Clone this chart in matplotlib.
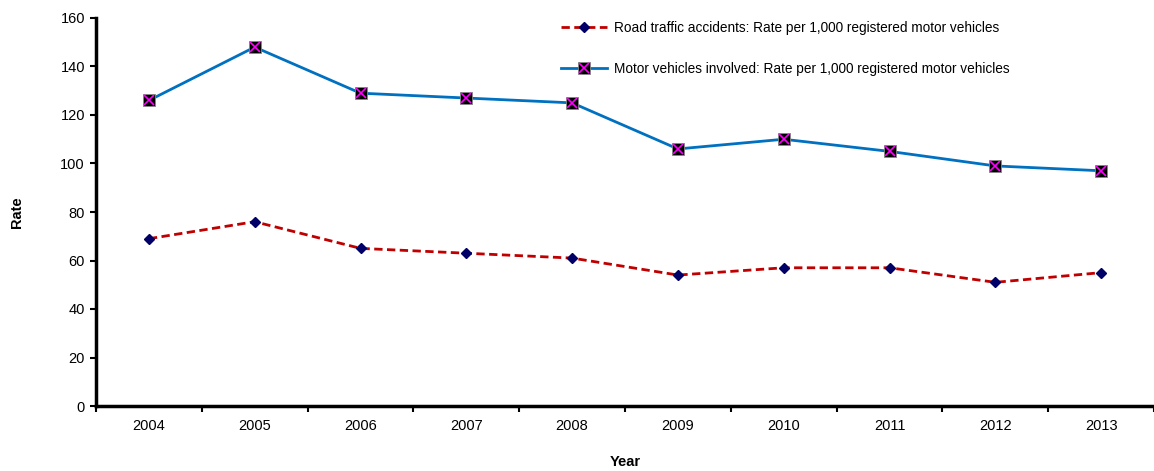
import matplotlib
matplotlib.use("Agg")
import matplotlib.pyplot as plt
from matplotlib.ticker import FixedLocator

plt.rcParams['font.family'] = ['Liberation Sans', 'DejaVu Sans']

years = ['2004', '2005', '2006', '2007', '2008', '2009', '2010', '2011', '2012', '2013']
accidents = [69, 76, 65, 63, 61, 54, 57, 57, 51, 55]
vehicles = [126, 148, 129, 127, 125, 106, 110, 105, 99, 97]

acc_label = 'Road traffic accidents: Rate per 1,000 registered motor vehicles'
veh_label = 'Motor vehicles involved: Rate per 1,000 registered motor vehicles'

fig = plt.figure(figsize=(11.54, 4.71), dpi=100)
ax = fig.add_axes([96 / 1154, 65 / 471, 1 - 96 / 1154, 388 / 471])

x = list(range(len(years)))

l_acc, = ax.plot(x, accidents, color='#C00000', lw=2, ls=(0, (3, 1.6)),
                 marker='D', ms=5.5, mfc='#000066', mec='#000066', zorder=3)
l_veh, = ax.plot(x, vehicles, color='#0070C0', lw=2,
                 marker='s', ms=8, mfc='black', mec='#888888', mew=0.6, zorder=3)
x_veh, = ax.plot(x, vehicles, ls='none', marker='x', ms=6.5, mec='#FF00FF', mew=1.2, zorder=4)

ax.set_xlim(-0.5, len(years) - 0.5)
ax.set_ylim(0, 160)
ax.set_yticks(range(0, 161, 20))
ax.set_xticks(x)
ax.set_xticklabels(years)
ax.tick_params(axis='x', which='major', length=0, pad=9, labelsize=10.5)
ax.xaxis.set_minor_locator(FixedLocator([i - 0.5 for i in range(len(years) + 1)]))
ax.tick_params(axis='x', which='minor', length=4, width=1.5, direction='out')
ax.tick_params(axis='y', length=4, width=1.5, direction='out', labelsize=10.5, pad=4)

for s in ['top', 'right']:
    ax.spines[s].set_visible(False)
for s in ['left', 'bottom']:
    ax.spines[s].set_linewidth(2.5)

ax.set_xlabel('Year', fontsize=10.5, fontweight='bold', labelpad=16)
ax.set_ylabel('Rate', fontsize=10.5, fontweight='bold', labelpad=26)

ax.legend([l_acc, (l_veh, x_veh)], [acc_label, veh_label],
          loc='upper left', bbox_to_anchor=(0.4275, 1.025), frameon=False,
          fontsize=9.8, handlelength=3.4, labelspacing=2.0, handletextpad=0.5)

fig.savefig('out.png', dpi=100)
